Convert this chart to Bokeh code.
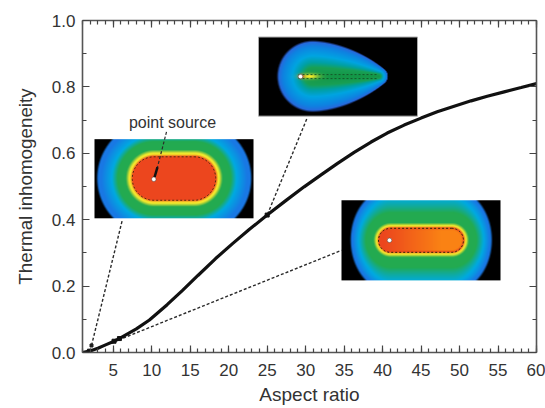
import numpy as np
from bokeh.plotting import figure
from bokeh.models import Range1d, LinearAxis, FixedTicker, Title
from bokeh.core.properties import value
from bokeh.embed import file_html
from bokeh.resources import INLINE

# Chart data
aspect_ratio = [1, 1.9, 3, 4, 5.1, 6, 8, 9.7, 12, 14, 16, 18.3, 20.5, 22.7, 25, 27.5, 29.8, 32, 34.1, 36.3, 38.5, 40.6, 42.8, 45, 47.1, 49.3, 51.5, 53.6, 55.8, 58, 60]
inhomogeneity = [0.0, 0.004, 0.013, 0.023, 0.034, 0.045, 0.071, 0.098, 0.144, 0.187, 0.232, 0.283, 0.328, 0.371, 0.414, 0.459, 0.499, 0.535, 0.569, 0.603, 0.634, 0.661, 0.685, 0.706, 0.725, 0.742, 0.758, 0.772, 0.785, 0.798, 0.81]
marker_x = [1.9, 5.1, 5.8, 25]
marker_y = [0.004, 0.034, 0.042, 0.414]
x_ticks = list(range(5, 65, 5))
x_minor = list(range(1, 61))
y_ticks = [0.0, 0.2, 0.4, 0.6, 0.8, 1.0]
y_minor = [0.1, 0.3, 0.5, 0.7, 0.9]

# Layout helpers: reference pixel -> data
L, R, T, B = 82.0, 536.0, 20.5, 352.0
X0, X1 = 1.0, 60.0
def dx(px): return X0 + (np.asarray(px, float) - L) / (R - L) * (X1 - X0)
def dy(py): return (B - np.asarray(py, float)) / (B - T)

RED = (236, 70, 30); YEL = (245, 232, 45); GRN = (35, 170, 80); CYN = (0, 170, 225); BLU = (25, 120, 228)
COLS = [RED, YEL, YEL, GRN, GRN, CYN, BLU, BLU]

def ramp(S, levels, cols):
    return np.stack([np.interp(S, levels, [c[i] for c in cols]) for i in range(3)], axis=-1)

def to_rgba(rgb):
    h, w, _ = rgb.shape
    img = np.empty((h, w), dtype=np.uint32)
    v = img.view(dtype=np.uint8).reshape((h, w, 4))
    v[..., :3] = np.clip(rgb, 0, 255).astype(np.uint8)
    v[..., 3] = 255
    return img

def grid(x0, x1, y0, y1):
    xs = np.arange(x0, x1, 0.5) + 0.25
    ys = np.arange(y1, y0, -0.5) - 0.25   # row 0 = bottom of image
    return np.meshgrid(xs, ys)

def capsule_inset(box, cx, cy, half, outer, levels, hot=None, squash=0.0):
    X, Y = grid(*box)
    ax_d = np.maximum(np.abs(X - cx) - half, 0)
    D = np.hypot(ax_d, Y - cy) / outer
    k = 1 - squash * np.clip((D - 0.45) / 0.55, 0, 1)
    D = np.hypot(ax_d, (Y - cy) * k) / outer
    rgb = ramp(D, levels, COLS)
    if hot is not None:
        sx, ex, c0, c1 = hot
        t = np.clip((X - sx) / (ex - sx), 0, 1)[..., None]
        inner = np.array(c0) * (1 - t) + np.array(c1) * t
        w = np.clip((D - levels[0] + 0.05) / 0.05, 0, 1)[..., None]
        rgb = inner * (1 - w) + rgb * w
    edge = np.clip((1 - D) * outer / 2.0 + 0.5, 0, 1)[..., None]
    return to_rgba(rgb * edge)

def drop_inset(box):
    X, Y = grid(*box)
    f = np.full(X.shape, 9.0)
    for t in np.linspace(0, 1, 60):
        cxx, rr = 312 + (378 - 312) * t, 9 + 26 * (1 - t ** 1.6)
        f = np.minimum(f, np.hypot(X - cxx, Y - 76.5) / rr)
    rgb = ramp(f, [0.0, 0.25, 0.40, 0.58, 0.85, 1.0],
               [(20, 150, 70), (25, 160, 85), (0, 160, 165), (0, 165, 225), (15, 130, 225), (45, 100, 220)])
    g = np.exp(-((X - 309) / 9) ** 2 - ((Y - 76.5) / 2.6) ** 2)[..., None]
    rgb = rgb * (1 - g) + np.array([250, 235, 40]) * g
    g2 = np.exp(-((X - 300.5) / 3) ** 2 - ((Y - 76.5) / 2.2) ** 2)[..., None]
    rgb = rgb * (1 - g2) + np.array(RED) * g2
    edge = np.clip((1 - f) * 15 + 0.5, 0, 1)[..., None]
    return to_rgba(rgb * edge)

def stadium(cx, cy, half, r):
    a = np.linspace(-np.pi / 2, np.pi / 2, 30)
    xs = np.r_[cx + half + r * np.cos(a), cx - half - r * np.cos(a), cx + half]
    ys = np.r_[cy + r * np.sin(a), cy - r * np.sin(a), cy - r]
    return dx(xs), dy(ys)

p = figure(width=545, height=408, output_backend="svg", toolbar_location=None,
           x_range=Range1d(X0, X1), y_range=Range1d(0, 1),
           min_border_left=int(L), min_border_right=int(545 - R), min_border_top=int(T), min_border_bottom=int(408 - B),
           x_axis_location=None, y_axis_location=None,
           background_fill_color="white", border_fill_color="white", outline_line_color=None)
p.grid.visible = False

def style(ax, ticks, minor, labels):
    ax.ticker = FixedTicker(ticks=ticks, minor_ticks=minor)
    ax.axis_line_color = "#555555"
    ax.axis_line_width = 1.6
    ax.major_tick_line_color = "#444444"
    ax.minor_tick_line_color = "#444444"
    ax.major_tick_line_width = 1.2
    ax.minor_tick_line_width = 1.2
    ax.major_tick_in = 7
    ax.major_tick_out = 0
    ax.minor_tick_in = 4
    ax.minor_tick_out = 0
    if not labels:
        ax.major_label_text_font_size = "0px"
        ax.major_label_text_color = None
        ax.major_label_standoff = 0
    else:
        ax.major_label_text_font = "Liberation Sans"
        ax.major_label_text_font_size = "17px"
        ax.major_label_text_color = "#333333"

bottom = LinearAxis()
left = LinearAxis()
top = LinearAxis()
right = LinearAxis()
style(bottom, x_ticks, x_minor, True)
style(left, y_ticks, y_minor, True)
style(top, x_ticks, x_minor, False)
style(right, y_ticks, y_minor, False)
bottom.major_label_standoff = 11
left.major_label_standoff = 7
left.major_label_overrides = {v: f"{v:.1f}" for v in y_ticks}
p.add_layout(bottom, "below")
p.add_layout(left, "left")
p.add_layout(top, "above")
p.add_layout(right, "right")

p.add_layout(Title(text="Aspect ratio", align="center", offset=0, standoff=6, text_font="Liberation Sans",
                   text_font_size="19px", text_font_style="normal", text_color="#333333"), "below")
p.add_layout(Title(text="Thermal inhomogeneity", align="center", offset=10, standoff=25, text_font="Liberation Sans",
                   text_font_size="18.8px", text_font_style="normal", text_color="#333333"), "left")

# Insets
B1 = (94, 253, 139, 218)
B2 = (258, 417, 37, 116)
B3 = (341, 500, 200, 280)
img1 = capsule_inset(B1, 173.5, 178.3, 20, 57, [0.38, 0.42, 0.44, 0.50, 0.64, 0.74, 0.93, 1.0])
img2 = drop_inset(B2)
img3 = capsule_inset(B3, 420.5, 240, 30.5, 40, [0.30, 0.345, 0.36, 0.43, 0.62, 0.80, 0.95, 1.0],
                     hot=(382, 440, RED, (250, 130, 20)), squash=0.22)
for img, b in ((img1, B1), (img2, B2), (img3, B3)):
    p.image_rgba(image=[img], x=[dx(b[0])], y=[dy(b[3])],
                 dw=[dx(b[1]) - dx(b[0])], dh=[dy(b[2]) - dy(b[3])])
p.quad(left=[dx(B2[0])], right=[dx(B2[1])], top=[dy(B2[2])], bottom=[dy(B2[3])],
       fill_color=None, line_color="#aaaaaa", line_width=1)

# Dashed outlines inside the insets
sx, sy = stadium(173.5, 178.3, 20, 21.7)
p.line(sx, sy, line_color="#5a2a10", line_width=1, line_dash="2 2")
sx, sy = stadium(420.5, 240, 30.5, 12)
p.line(sx, sy, line_color="#33240a", line_width=1, line_dash="2 2")
p.line(dx([298, 378]), dy([74.5, 74.5]), line_color="#145a2a", line_width=1, line_dash="2 2")
p.line(dx([298, 378]), dy([78.5, 78.5]), line_color="#145a2a", line_width=1, line_dash="2 2")

# Leader lines
LC = "#2a2a2a"
p.line(dx([91, 122]), dy([345, 219]), line_color=LC, line_width=1.4, line_dash="3 2")
p.line(dx([118, 341]), dy([339.5, 250]), line_color=LC, line_width=1.4, line_dash="3 2")
p.line(dx([267, 307]), dy([214, 117]), line_color=LC, line_width=1.4, line_dash="3 2")
p.line(dx([166, 156.7]), dy([131.7, 168]), line_color=LC, line_width=1.2, line_dash="3 2")
p.line(dx([157, 154]), dy([167, 177]), line_color="#111111", line_width=2.5)

# Main curve
p.line(aspect_ratio, inhomogeneity, line_color="#111111", line_width=3.2)
p.scatter(marker_x, marker_y, marker="square", size=4, fill_color="#111111", line_color="#111111")
p.scatter([dx(91)], [dy(345)], marker="square", size=3, fill_color="#222222", line_color="#222222")

# Source dots
p.scatter(dx([153.3, 300, 389]), dy([179, 76.5, 240]), marker="circle", size=4.5,
          fill_color="white", line_color="#444444", line_width=0.5)

p.text(x=[dx(172)], y=[dy(122)], text=["point source"], text_font=value("Liberation Sans"),
       text_font_size="16px", text_align="center", text_baseline="middle", text_color="#333333")

open("out.html", "w").write(file_html(p, INLINE))
